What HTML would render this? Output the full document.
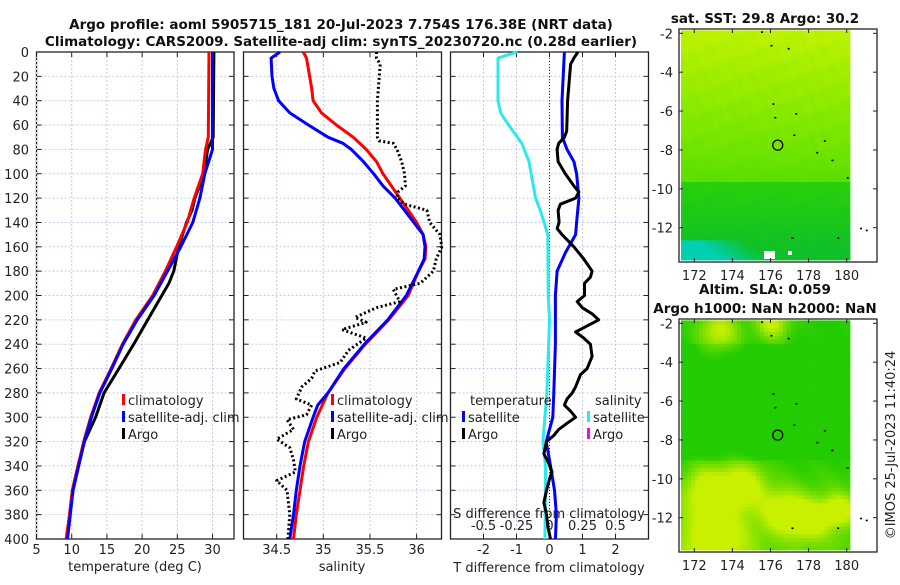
<!DOCTYPE html>
<html><head><meta charset="utf-8"><style>
body{margin:0;background:#fff}
svg text{font-family:"DejaVu Sans","Liberation Sans",sans-serif;fill:#222}
.tl{font-size:13px}
.tt{font-size:13.5px;font-weight:bold;fill:#111}
</style></head><body>
<svg id="s" width="900" height="580" viewBox="0 0 900 580" xmlns="http://www.w3.org/2000/svg">
<text class="tt" x="341" y="29" text-anchor="middle">Argo profile: aoml 5905715_181 20-Jul-2023 7.754S 176.38E (NRT data)</text>
<text class="tt" x="341" y="46" text-anchor="middle">Climatology: CARS2009. Satellite-adj clim: synTS_20230720.nc (0.28d earlier)</text>
<text class="tt" x="765" y="23" text-anchor="middle">sat. SST: 29.8 Argo: 30.2</text>
<text class="tt" x="765" y="294" text-anchor="middle">Altim. SLA: 0.059</text>
<text class="tt" x="765" y="313" text-anchor="middle">Argo h1000: NaN h2000: NaN</text>
<text class="tl" transform="translate(895,445) rotate(-90)" text-anchor="middle">©IMOS 25-Jul-2023 11:40:24</text>
<g id="g"></g>
</svg>
<script>
// ---- data ----
const tDepth=[0,70,80,100,120,140,160,180,200,220,240,260,280,300,320,340,360,380,400];
const tClim=[29.5,29.4,29.0,28.6,27.4,26.4,24.9,23.3,21.5,19.1,17.2,15.6,13.9,12.7,11.7,10.9,10.1,9.7,9.2];
const tSatDepth=[0,80,100,120,140,160,180,200,220,240,260,280,300,320,340,360,380,400];
const tSat=[30.0,30.0,28.9,28.2,27.2,25.5,23.6,21.7,19.3,17.3,15.7,14.0,12.8,11.8,11.0,10.2,9.8,9.4];
const tArgoDepth=[0,70,80,100,120,130,140,160,180,190,200,220,240,260,280,300,320,340,360,380,400];
const tArgo=[30.2,30.1,29.3,28.8,27.5,27.1,26.3,25.2,24.5,23.8,22.8,20.8,18.8,16.7,14.6,13.4,11.8,10.9,10.1,9.7,9.3];
const sClimDepth=[0,5,30,40,50,60,70,80,90,100,120,140,150,160,170,180,200,220,240,260,280,300,320,340,360,380,400];
const sClim=[34.785,34.82,34.875,34.89,34.98,35.14,35.32,35.46,35.57,35.64,35.82,36.0,36.07,36.1,36.09,36.02,35.91,35.70,35.45,35.23,35.05,34.93,34.84,34.79,34.75,34.71,34.68];
const sSatDepth=[0,5,20,30,40,50,60,70,75,80,90,100,110,120,130,140,150,160,170,180,200,220,240,260,280,290,300,320,340,360,380,400];
const sSat=[34.535,34.44,34.45,34.47,34.52,34.64,34.84,35.05,35.21,35.30,35.43,35.54,35.64,35.77,35.87,35.97,36.07,36.09,36.08,36.02,35.89,35.69,35.44,35.22,35.05,34.94,34.89,34.80,34.75,34.71,34.68,34.64];
const sArgoDepth=[0,5,10,20,40,70,73,75,80,90,100,110,115,120,125,130,140,150,160,170,180,190,195,205,210,218,222,228,235,245,255,262,268,275,285,290,298,302,310,318,325,335,345,352,360,380,400];
const sArgo=[35.57,35.57,35.61,35.6,35.58,35.58,35.6,35.75,35.79,35.84,35.87,35.88,35.80,35.79,35.87,36.11,36.14,36.25,36.27,36.21,36.18,36.04,35.75,35.82,35.57,35.34,35.46,35.2,35.46,35.27,35.18,34.91,34.875,34.77,34.71,34.875,34.82,34.61,34.68,34.5,34.64,34.68,34.7,34.5,34.61,34.64,34.62];
const dSDepth=[0,5,40,50,60,75,90,120,130,150,200,220,280,300,320,340,360,400];
const dSSat=[-0.245,-0.39,-0.39,-0.37,-0.31,-0.21,-0.155,-0.105,-0.07,-0.013,-0.01,0,-0.02,-0.035,-0.05,-0.03,-0.03,-0.035];
const dTSatDepth=[0,40,70,80,90,100,120,140,150,165,180,200,240,280,300,320,340,360,380,400];
const dTSat=[0.45,0.38,0.39,0.53,0.74,0.82,0.89,0.82,0.79,0.48,0.23,0.18,0.18,0.13,0.1,-0.1,0.03,0.15,0.21,0.18];
const dTArgoDepth=[0,5,10,40,65,70,75,80,90,100,110,115,120,125,130,140,145,150,160,170,180,185,190,200,205,210,215,220,225,230,235,240,250,260,265,275,280,285,290,295,300,305,310,315,320,330,338,345,350,360,370,380,390,400];
const dTArgo=[0.86,0.74,0.64,0.55,0.52,0.45,0.28,0.23,0.26,0.48,0.74,0.89,0.79,0.33,0.26,0.29,0.23,0.38,0.74,1.04,1.29,1.24,1.06,1.06,0.84,0.99,1.29,1.49,1.14,0.79,1.04,1.24,1.29,1.14,0.94,0.79,0.69,0.53,0.45,0.64,0.79,0.53,0.28,0.13,-0.09,-0.17,-0.02,0.08,0.01,-0.09,-0.17,-0.09,-0.05,0.03];
const depthTicks=[0,20,40,60,80,100,120,140,160,180,200,220,240,260,280,300,320,340,360,380,400];
const tTicks=[5,10,15,20,25,30];
const sTicks=[34.5,35,35.5,36];
const dTTicks=[-2,-1,0,1,2];
const dSTicks=[-0.5,-0.25,0,0.25,0.5];
const dSTickLabels=["-0.5","-0.25","0","0.25","0.5"];
const lonTicks=[172,174,176,178,180];
const latTicks=[-2,-4,-6,-8,-10,-12];
const argoLon=176.38, argoLat=-7.754;

const NS="http://www.w3.org/2000/svg", G=document.getElementById('g');
function mk(tag,at,parent){const e=document.createElementNS(NS,tag);for(const k in at)e.setAttribute(k,at[k]);(parent||G).appendChild(e);return e;}
const Y0=52,Y1=539;
const yD=d=>Y0+d*(Y1-Y0)/400;
const P=[{x0:36.5,x1:234,lo:5,hi:33.05},{x0:243.5,x1:441.5,lo:34.144,hi:36.267},{x0:450.5,x1:648.5,lo:-3,hi:3}];
const xs=(p,v)=>p.x0+(v-p.lo)*(p.x1-p.x0)/(p.hi-p.lo);
const xT=v=>xs(P[0],v), xS=v=>xs(P[1],v), xDT=v=>xs(P[2],v), xDS=v=>xs(P[2],v*4);

P.forEach((p,i)=>{
  const f=mk('rect',{x:p.x0,y:Y0,width:p.x1-p.x0,height:Y1-Y0,fill:'#fff',stroke:'#222','stroke-width':1.3});
  
  
  depthTicks.forEach(d=>{
    if(d>0&&d<400){const l=mk('line',{x1:p.x0,x2:p.x1,y1:yD(d),y2:yD(d),stroke:'#c4cbe8','stroke-dasharray':'2,2'});
    
    }
    mk('line',{x1:p.x0,x2:p.x0+5,y1:yD(d),y2:yD(d),stroke:'#222'});
    mk('line',{x1:p.x1,x2:p.x1-5,y1:yD(d),y2:yD(d),stroke:'#222'});
  });
});
depthTicks.forEach(d=>{const t=mk('text',{x:29,y:yD(d)+5,'text-anchor':'end',class:'tl'});t.textContent=d;
 
 });
function vgrid(ticks,fx,labels,ly,name){
  ticks.forEach((v,i)=>{const x=fx(v);
    const l=mk('line',{x1:x,x2:x,y1:Y0,y2:Y1,stroke:'#c4cbe8','stroke-dasharray':'2,2'});
    
    
    mk('line',{x1:x,x2:x,y1:Y1,y2:Y1-5,stroke:'#222'});mk('line',{x1:x,x2:x,y1:Y0,y2:Y0+5,stroke:'#222'});
    const t=mk('text',{x:x,y:ly,'text-anchor':'middle',class:'tl'});t.textContent=labels?labels[i]:v;
    
    });
}
vgrid(tTicks,xT,null,554,'temperature');
vgrid(sTicks,xS,null,554,'salinity');
vgrid(dTTicks,xDT,null,554,'t-diff');
dSTicks.forEach((v,i)=>{const t=mk('text',{x:xDS(v),y:530,'text-anchor':'middle',class:'tl'});t.textContent=dSTickLabels[i];
 
 });
function lab(x,y,s,name,anchor){const t=mk('text',{x:x,y:y,'text-anchor':anchor||'middle',class:'tl'});t.textContent=s;
 
 return t;}
lab(135,571,'temperature (deg C)','x-axis-title-temperature');
lab(342,571,'salinity','x-axis-title-salinity');
lab(549,572,'T difference from climatology','x-axis-title-t-diff');
lab(549,518,'S difference from climatology','s-diff-axis-title');
const z=mk('line',{x1:xDT(0),x2:xDT(0),y1:Y0,y2:Y1,stroke:'#333','stroke-dasharray':'1,2'});



function line(depths,vals,fx,color,name,dash){
  const pts=depths.map((d,i)=>fx(vals[i]).toFixed(1)+','+yD(d).toFixed(1)).join(' ');
  const a={points:pts,fill:'none',stroke:color,'stroke-width':3,'stroke-linejoin':'round'};
  if(dash)a['stroke-dasharray']=dash;
  const e=mk('polyline',a);
  
  
}
line(tArgoDepth,tArgo,xT,'#000','temperature-argo-line');
line(tDepth,tClim,xT,'#f00','temperature-climatology-line');
line(tSatDepth,tSat,xT,'#00f','temperature-satellite-line');
line(sClimDepth,sClim,xS,'#f00','salinity-climatology-line');
line(sSatDepth,sSat,xS,'#00f','salinity-satellite-line');
line(sArgoDepth,sArgo,xS,'#000','salinity-argo-line','2,2.5');
line(dSDepth,dSSat,xDS,'#2ee8f0','s-diff-satellite-line');
line(dTSatDepth,dTSat,xDT,'#00f','t-diff-satellite-line');
line(dTArgoDepth,dTArgo,xDT,'#000','t-diff-argo-line');

function leg(x,y,color,txt,name){const r=mk('rect',{x:x,y:y-11,width:3,height:11,fill:color});
  
  
  lab(x+6,y,txt,name,'start');}
leg(122,405,'#f00','climatology','legend-climatology');
leg(122,422,'#00f','satellite-adj. clim','legend-satellite');
leg(122,439,'#000','Argo','legend-argo');
leg(331,405,'#f00','climatology','legend-s-climatology');
leg(331,422,'#00f','satellite-adj. clim','legend-s-satellite');
leg(331,439,'#000','Argo','legend-s-argo');
lab(470,405,'temperature','legend-temperature-header','start');
lab(595,405,'salinity','legend-salinity-header','start');
leg(462,422,'#00f','satellite','legend-t-satellite');
leg(462,439,'#000','Argo','legend-t-argo');
leg(587,422,'#2ee8f0','satellite','legend-s-satellite-diff');
leg(587,439,'#f0f','Argo','legend-s-argo-diff');

// ---- maps ----
const M=[{top:29,bot:262,lat0y:33.3,name:'sst-map'},{top:319,bot:552,lat0y:323.3,name:'sla-map'}];
const mx=lon=>694.3+(lon-172)*19.05;
function mix(a,b,t){t=Math.max(0,Math.min(1,t));return a.map((v,i)=>Math.round(v+(b[i]-v)*t));}
function c1(lon,lat){
  const n=Math.sin(lon*7.3+lat*3.1)*0.04+Math.sin(lon*2.1-lat*5.7)*0.04;
  let c;
  if(lat>-8) c=mix([186,242,0],[110,228,0],(-2-lat)/6+n);
  else if(lat>-9.6) c=mix([110,228,0],[90,222,0],(-8-lat)/1.6+n);
  else c=mix([40,208,10],[16,192,40],(-9.6-lat)/3.5+n);
  if(lat<-12.6){const t=(174.5-lon)/2.5+(-12.6-lat)*0.6;c=mix(c,[0,208,176],t);}
  return c;
}
function c2(lon,lat){
  let y=0;
  const bl=[[173,-13.2,1.8],[176.6,-11.6,1.1],[172.6,-10.4,1.2],[174.5,-10.2,1.2],[173.2,-2.3,1.1],[176,-1.9,0.9],[178,-12,1.0],[179.5,-11.5,0.8]];
  bl.forEach(b=>{const d=((lon-b[0])**2+(lat-b[1])**2)/(b[2]*b[2]);y+=Math.exp(-d);});
  y=Math.min(1,y)+Math.sin(lon*3+lat*2)*0.05+Math.max(0,Math.min(0.35,(-8.5-lat)*0.12));
  if(lat>-9&&lat<-3)y-=0.15;
  return mix([34,204,0],[200,240,0],y);
}
M.forEach((m,k)=>{
  const my=lat=>m.lat0y+(-2-lat)*19.44;
  const g=mk('g',{});
  
  
  mk('rect',{x:679,y:m.top,width:198,height:m.bot-m.top,fill:'#fff',stroke:'#222','stroke-width':1.3},g);
  const step=0.2;
  for(let lon=171.25;lon<180.15;lon+=step){
    for(let lat=-1.85;lat>-13.65;lat-=step){
      const c=(k?c2:c1)(lon,lat);
      const x=Math.max(681,mx(lon)), y=Math.max(m.top+1,my(lat));
      const w=Math.min(850,mx(lon+step))-x, h=Math.min(m.bot-2,my(lat-step))-y;
      if(w>0&&h>0)mk('rect',{x:x.toFixed(1),y:y.toFixed(1),width:(w+0.4).toFixed(1),height:(h+0.4).toFixed(1),fill:'rgb('+c+')'},g);
    }
  }
  if(k==0){mk('rect',{x:764,y:251,width:11,height:8,fill:'#fff'},g);mk('rect',{x:788,y:251,width:4,height:4,fill:'#fff'},g);}
  lonTicks.forEach(v=>{const x=mx(v);mk('line',{x1:x,x2:x,y1:m.bot,y2:m.bot-4,stroke:'#222'},g);mk('line',{x1:x,x2:x,y1:m.top,y2:m.top+4,stroke:'#222'},g);
    const t=mk('text',{x:x,y:m.bot+18,'text-anchor':'middle',class:'tl'},g);t.textContent=v;
    
    });
  latTicks.forEach(v=>{const y=my(v);mk('line',{x1:679,x2:683,y1:y,y2:y,stroke:'#222'},g);mk('line',{x1:877,x2:873,y1:y,y2:y,stroke:'#222'},g);
    const t=mk('text',{x:673,y:y+5,'text-anchor':'end',class:'tl'},g);t.textContent=v;
    
    });
  [[175.5,-1.9],[176,-2.6],[176.9,-2.75],[176.1,-5.6],[176.2,-6.3],[177.3,-6.1],[177.2,-7.2],[178.8,-7.5],[178.4,-8.1],[179.2,-8.5],[180,-9.4],[177.1,-12.5],[179.5,-12.5],[180.7,-12.0],[181,-12.1]].forEach(p=>{
    mk('rect',{x:mx(p[0]),y:my(p[1]),width:2,height:1.6,fill:'#000'},g);});
  const c=mk('circle',{cx:mx(argoLon),cy:my(argoLat),r:5,fill:'none',stroke:'#000','stroke-width':1.3},g);
  
  
});
</script>
</body></html>
